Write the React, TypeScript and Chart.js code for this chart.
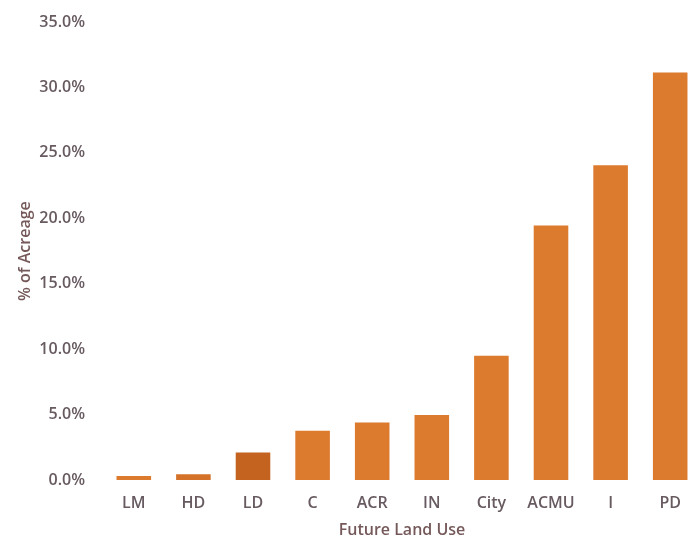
import React, { useEffect, useRef } from "react";
import { Chart, registerables } from "chart.js";

Chart.register(...registerables);

const categories = ["LM", "HD", "LD", "C", "ACR", "IN", "City", "ACMU", "I", "PD"];
const acreagePct = [0.32, 0.45, 2.1, 3.78, 4.4, 4.98, 9.5, 19.45, 24.05, 31.15];
const barColors = ["#DC7A2E", "#D4722A", "#C4621F", "#DC7A2E", "#DC7A2E", "#DC7A2E", "#DC7A2E", "#DC7A2E", "#DC7A2E", "#DC7A2E"];
const yTicks = [0, 5, 10, 15, 20, 25, 30, 35];

const FONT = "'Open Sans', 'Noto Sans', sans-serif";
const TEXT = "#675A61";
const TITLE = "#75595A";

export default function App() {
  const ref = useRef<HTMLCanvasElement | null>(null);
  useEffect(() => {
    if (!ref.current) return;
    const chart = new Chart(ref.current, {
      type: "bar",
      data: {
        labels: categories,
        datasets: [
          {
            data: acreagePct,
            backgroundColor: barColors,
            borderWidth: 0,
            barPercentage: 0.58,
            categoryPercentage: 1,
          },
        ],
      },
      options: {
        animation: false,
        responsive: true,
        maintainAspectRatio: false,
        layout: { padding: { top: 22, right: 0, bottom: 0, left: 0 } },
        plugins: { legend: { display: false }, tooltip: { enabled: false } },
        scales: {
          x: {
            grid: { display: false, drawTicks: false },
            border: { display: false },
            ticks: { color: TEXT, font: { family: FONT, size: 16, weight: 600 }, padding: 14 },
            title: {
              display: true,
              text: "Future Land Use",
              color: TITLE,
              font: { family: FONT, size: 16, weight: 600 },
              padding: { top: -6.5, bottom: -1 },
            },
          },
          y: {
            min: 0,
            max: 35,
            afterBuildTicks: (s: any) => {
              s.ticks = yTicks.map((v) => ({ value: v }));
            },
            afterFit: (s: any) => {
              s.width = 104;
            },
            grid: { display: false, drawTicks: true, tickLength: 19 },
            border: { display: false },
            ticks: {
              color: TEXT,
              font: { family: FONT, size: 16, weight: 600 },
              padding: 0,
              callback: (v: any) => Number(v).toFixed(1) + "%",
            },
            title: {
              display: true,
              text: "% of Acreage",
              color: TITLE,
              font: { family: FONT, size: 16, weight: 600 },
              padding: { top: 16, bottom: 0 },
            },
          },
        },
      },
    });
    return () => chart.destroy();
  }, []);
  return (
    <div style={{ position: "fixed", left: 0, top: 0, width: 689, height: 539, overflow: "hidden", background: "#fff" }}>
      <div style={{ position: "absolute", left: 0, top: 0, width: 700, height: 539 }}>
        <canvas ref={ref} />
      </div>
    </div>
  );
}
